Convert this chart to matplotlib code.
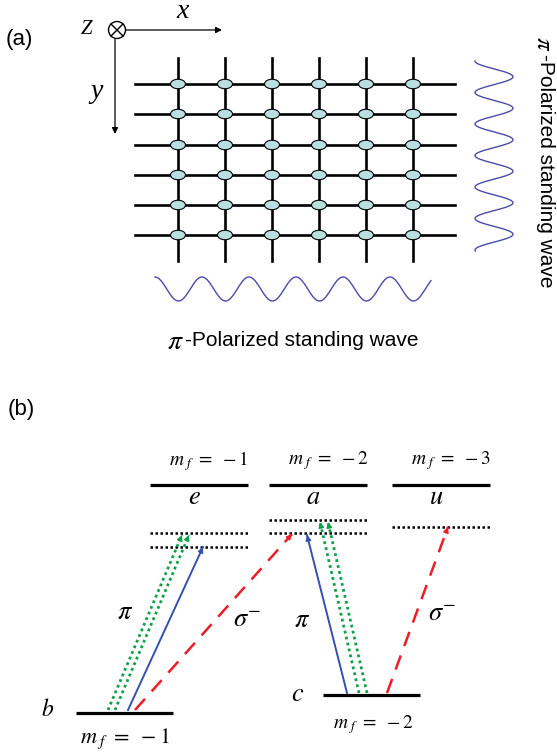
import numpy as np
import matplotlib
matplotlib.use('Agg')
import matplotlib.pyplot as plt
from matplotlib.patches import Ellipse, Circle

plt.rcParams['mathtext.fontset'] = 'stix'

# lattice geometry (pixel units)
grid_cols = [178, 225, 272, 319, 366, 413]
grid_rows = [84, 114, 145, 175, 205, 235]
wave_color = '#4b4ba8'
site_color = '#b9dfe0'

# energy levels: name -> (x0, x1, y)
levels = {
    'e': (150, 248, 485),
    'a': (269, 367, 485),
    'u': (392, 490, 485),
    'b': (76, 173, 713),
    'c': (323, 420, 695),
}
virtual = {
    'e': [533, 547],
    'a': [520, 533],
    'u': [527],
}
level_mf = {'e': '1', 'a': '2', 'u': '3', 'b': '1', 'c': '2'}

# transitions: (start, end, kind)
transitions = [
    ((108, 710), (182, 535), 'green'),
    ((115, 710), (189, 535), 'green'),
    ((128, 710), (203, 547), 'blue'),
    ((135, 710), (292, 534), 'red'),
    ((347, 693), (307, 535), 'blue'),
    ((359, 693), (320, 522), 'green'),
    ((367, 693), (328, 522), 'green'),
    ((387, 693), (448, 527), 'red'),
]
styles = {
    'green': dict(color='#11a04a', ls=(0, (1, 1.2)), lw=2.0),
    'blue': dict(color='#3550b0', ls='-', lw=1.4),
    'red': dict(color='#ee1c25', ls=(0, (6, 4)), lw=1.8),
}


def arrow(ax, p0, p1, style):
    st = styles[style]
    ax.plot([p0[0], p1[0]], [p0[1], p1[1]], color=st['color'], ls=st['ls'], lw=st['lw'])
    d = np.array(p1) - np.array(p0)
    d = d / np.hypot(*d)
    tail = np.array(p1) - 6 * d
    ax.annotate('', xy=p1, xytext=tail,
                arrowprops=dict(arrowstyle='-|>', color=st['color'], lw=1, mutation_scale=8,
                                shrinkA=0, shrinkB=0))


def mf(n):
    return r'$m_{\ f}\ =\ -%s$' % n


def main():
    fig = plt.figure(figsize=(5.57, 7.56), dpi=100)
    ax = fig.add_axes([0, 0, 1, 1])
    ax.set_xlim(0, 557)
    ax.set_ylim(756, 0)
    ax.axis('off')

    serif = 'Liberation Serif'
    sans = 'Liberation Sans'

    # ---- (a) ----
    ax.text(6, 40, '(a)', fontsize=16, family=sans, va='center')
    ax.text(87, 30, 'Z', fontsize=15, family=serif, style='italic', va='center', ha='center')
    ax.add_patch(Circle((117, 30), 8.5, fill=False, lw=1.0, color='k'))
    ax.plot([111, 123], [24, 36], color='k', lw=1.0)
    ax.plot([111, 123], [36, 24], color='k', lw=1.0)
    ax.annotate('', xy=(222, 30), xytext=(126, 30),
                arrowprops=dict(arrowstyle='-|>', color='k', lw=0.9, mutation_scale=9, shrinkA=0, shrinkB=0))
    ax.annotate('', xy=(115, 134), xytext=(115, 39),
                arrowprops=dict(arrowstyle='-|>', color='k', lw=0.9, mutation_scale=9, shrinkA=0, shrinkB=0))
    ax.text(183, 11, 'x', fontsize=20, family=serif, style='italic', va='center', ha='center')
    ax.text(96, 92, 'y', fontsize=20, family=serif, style='italic', va='center', ha='center')

    for y in grid_rows:
        ax.plot([135, 455], [y, y], color='k', lw=1.9, zorder=2)
    for x in grid_cols:
        ax.plot([x, x], [58, 261], color='k', lw=1.9, zorder=2)
    for y in grid_rows:
        for x in grid_cols:
            ax.add_patch(Ellipse((x, y), 15, 9.5, facecolor=site_color, edgecolor='k', lw=0.8, zorder=3))

    period = grid_cols[1] - grid_cols[0]
    xs = np.linspace(155, 431, 400)
    ax.plot(xs, 289 + 12 * np.cos(2 * np.pi * (xs - 155) / period - np.pi), color=wave_color, lw=1.0)
    ys = np.linspace(61, 251, 400)
    ax.plot(494 - 19 * np.cos(2 * np.pi * (ys - 61) / 31.5), ys, color=wave_color, lw=1.0)

    # labels of the standing waves: big italic pi + sans text
    ax.text(175, 341, r'$\pi$', fontsize=20, ha='center', va='center')
    ax.text(185, 340, '-Polarized standing wave', fontsize=15, family=sans, ha='left', va='center')
    ax.text(544, 44, r'$\pi$', fontsize=18, rotation=-90, ha='center', va='center')
    ax.text(545, 54, '-Polarized standing wave', fontsize=15, family=sans,
            rotation=-90, ha='center', va='top')

    # ---- (b) ----
    ax.text(8, 410, '(b)', fontsize=16, family=sans, va='center')
    for name, (x0, x1, y) in levels.items():
        ax.plot([x0, x1], [y, y], color='k', lw=2.3, solid_capstyle='butt')
    for name, ylist in virtual.items():
        x0, x1, _ = levels[name]
        for y in ylist:
            ax.plot([x0, x1], [y, y], color='k', lw=1.8, ls=(0, (1, 1)))

    for name in ['e', 'a', 'u']:
        x0, x1, y = levels[name]
        ax.text((x0 + x1) / 2 + 10, y - 24, mf(level_mf[name]), fontsize=14,
                ha='center', va='center')
        ax.text((x0 + x1) / 2 - 5, y + 12, r'$%s$' % name, fontsize=19, ha='center', va='center')
    x0, x1, y = levels['b']
    ax.text((x0 + x1) / 2, y + 26, mf(level_mf['b']), fontsize=16, ha='center', va='center')
    ax.text(48, y - 4, r'$b$', fontsize=17, ha='center', va='center')
    x0, x1, y = levels['c']
    ax.text((x0 + x1) / 2 + 2, y + 30, mf(level_mf['c']), fontsize=14, ha='center', va='center')
    ax.text(298, y - 1, r'$c$', fontsize=19, ha='center', va='center')

    for p0, p1, kind in transitions:
        arrow(ax, p0, p1, kind)

    ax.text(125, 612, r'$\pi$', fontsize=19, ha='center', va='center')
    ax.text(247, 620, r'$\sigma^{-}$', fontsize=19, ha='center', va='center')
    ax.text(302, 620, r'$\pi$', fontsize=19, ha='center', va='center')
    ax.text(442, 614, r'$\sigma^{-}$', fontsize=19, ha='center', va='center')

    fig.savefig('out.png', dpi=100)


if __name__ == '__main__':
    main()
